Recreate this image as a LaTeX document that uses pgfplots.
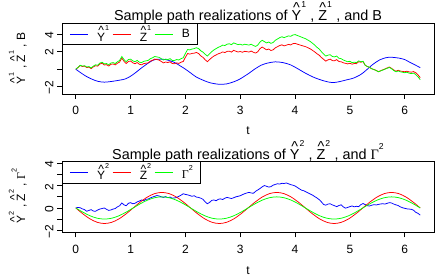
\documentclass[border=0pt]{standalone}
\usepackage{fontspec}
\setmainfont{Liberation Sans}
\newfontfamily\serifgr{Liberation Serif}
\usepackage{graphicx}
\usepackage{pgfplots}
\pgfplotsset{compat=1.18}

\newcommand{\rhat}[2]{\ooalign{#1\cr\hidewidth\raisebox{0.55em}{\textasciicircum}\hidewidth\cr}\raisebox{0.92em}{\scalebox{0.6}{#2}}}
\newcommand{\gsup}[1]{{\serifgr Γ}\raisebox{0.7em}{\scalebox{0.6}{#1}}}

\pgfplotsset{
  rstyle/.style={
    scale only axis, width=372pt, height=71pt,
    xmin=-0.2513, xmax=6.5345,
    axis line style={line width=0.75pt},
    tick align=outside, tick pos=left,
    every tick/.style={black, line width=0.75pt},
    major tick length=5pt,
    xtick={0,1,2,3,4,5,6},
    xticklabels={0,1,2,3,4,5,6},
    ticklabel style={font=\fontsize{12}{14}\selectfont},
    yticklabel style={rotate=90, anchor=south, xshift=-1pt},
    xticklabel style={anchor=north, yshift=-4pt},
    every axis plot/.append style={line width=0.75pt},
    legend style={at={(rel axis cs:0,1)}, anchor=north west, draw=black, line width=0.75pt,
      fill=white, font=\fontsize{12}{14}\selectfont, inner xsep=7pt, inner ysep=2pt,
      nodes={inner sep=0pt},
      /tikz/every odd column/.append style={column sep=9pt},
      /tikz/every even column/.append style={column sep=3pt}},
    legend columns=3,
    legend cell align=left,
    legend image code/.code={\draw[##1] (0pt,0pt) -- (18pt,0pt);},
  }
}

\begin{document}
\begin{tikzpicture}
\useasboundingbox (0,0) rectangle (446pt,278pt);

% ---------------- top panel ----------------
\begin{axis}[rstyle, at={(62pt,184pt)}, anchor=south west,
  ymin=-2.83, ymax=5.27, ytick={-2,0,2,4}, yticklabels={−2,,2,4}]
\addplot[blue, smooth] coordinates {
(0,0) (0.1,-0.45) (0.2,-0.85) (0.3,-1.15) (0.4,-1.38) (0.52,-1.48) (0.65,-1.4) (0.8,-1.25)
(0.9,-1.12) (1.0,-0.8) (1.1,-0.35) (1.2,0.15) (1.3,0.6) (1.4,1.0) (1.46,1.12) (1.55,1.15)
(1.65,1.08) (1.79,0.8) (1.9,0.4) (2.0,0.0) (2.1,-0.45) (2.2,-0.9) (2.34,-1.3) (2.45,-1.55)
(2.61,-1.72) (2.75,-1.68) (2.89,-1.42) (3.0,-1.1) (3.16,-0.46) (3.25,-0.05) (3.38,0.45)
(3.5,0.7) (3.64,0.84) (3.78,0.75) (3.92,0.49) (4.05,0.05) (4.19,-0.46) (4.35,-0.95)
(4.53,-1.34) (4.68,-1.53) (4.81,-1.42) (4.95,-1.2) (5.06,-1.03) (5.2,-0.6) (5.3,-0.1)
(5.42,0.55) (5.54,1.05) (5.65,1.3) (5.72,1.37) (5.82,1.33) (5.9,1.26) (6.0,1.1)
(6.09,0.8) (6.2,0.45) (6.283,0.18)};
\addlegendentry{\rhat{Y}{1}}
\addplot[red] coordinates {
(0,0) (0.04,0.18) (0.08,0.42) (0.12,0.31) (0.16,0.35) (0.2,0.19) (0.24,0.23) (0.28,0.07)
(0.32,0.26) (0.36,0.4) (0.4,0.35) (0.44,0.59) (0.48,0.68) (0.52,0.48) (0.56,0.52) (0.6,0.36)
(0.64,0.55) (0.68,0.6) (0.72,0.49) (0.76,0.68) (0.8,0.82) (0.84,1.26) (0.88,0.9) (0.92,0.65)
(0.96,0.89) (1.0,0.93) (1.04,0.73) (1.08,0.62) (1.12,0.76) (1.16,0.56) (1.2,0.5) (1.24,0.64)
(1.28,0.68) (1.32,0.72) (1.36,0.92) (1.4,1.01) (1.44,1.15) (1.48,1.1) (1.52,1.04) (1.56,0.88)
(1.6,0.72) (1.64,0.82) (1.68,0.76) (1.72,0.85) (1.76,0.64) (1.8,0.63) (1.84,0.72) (1.88,0.66)
(1.92,0.8) (1.96,0.88) (2.0,1.36) (2.04,1.79) (2.08,1.72) (2.12,1.8) (2.16,1.83) (2.2,1.91)
(2.24,1.79) (2.28,1.52) (2.32,1.35) (2.36,1.08) (2.4,0.86) (2.44,1.09) (2.48,1.32) (2.52,1.5)
(2.56,1.63) (2.6,1.76) (2.64,1.84) (2.68,1.97) (2.72,1.9) (2.76,2.03) (2.8,2.06) (2.84,1.95)
(2.88,2.15) (2.92,2.05) (2.96,1.96) (3.0,2.02) (3.04,1.93) (3.08,2.04) (3.12,2.0) (3.16,1.96)
(3.2,2.07) (3.24,1.93) (3.28,1.84) (3.32,1.99) (3.36,2.34) (3.4,2.53) (3.44,2.37) (3.48,2.21)
(3.52,2.3) (3.56,2.13) (3.6,2.21) (3.64,2.44) (3.68,2.57) (3.72,2.7) (3.76,2.78) (3.8,2.66)
(3.84,2.74) (3.88,2.83) (3.92,2.77) (3.96,2.91) (4.0,2.95) (4.04,2.86) (4.08,2.78) (4.12,2.7)
(4.16,2.63) (4.2,2.55) (4.24,2.43) (4.28,2.31) (4.32,2.14) (4.36,1.97) (4.4,1.76) (4.44,1.6)
(4.48,1.34) (4.52,1.13) (4.56,0.92) (4.6,1.06) (4.64,1.15) (4.68,0.98) (4.72,0.96) (4.76,1.09)
(4.8,0.87) (4.84,0.85) (4.88,0.73) (4.92,0.67) (4.96,0.6) (5.0,0.68) (5.04,0.57) (5.08,0.65)
(5.12,0.63) (5.16,0.86) (5.2,0.79) (5.24,0.87) (5.28,0.44) (5.32,0.3) (5.36,0.2) (5.4,0.05)
(5.44,-0.04) (5.48,-0.14) (5.52,-0.28) (5.56,-0.18) (5.6,-0.07) (5.64,0.03) (5.68,0.14)
(5.72,0.25) (5.76,0.1) (5.8,-0.09) (5.84,-0.23) (5.88,-0.12) (5.92,-0.21) (5.96,-0.25)
(6.0,-0.29) (6.04,-0.23) (6.08,-0.31) (6.12,-0.34) (6.16,-0.27) (6.2,-0.4) (6.24,-0.63)
(6.283,-0.96)};
\addlegendentry{\rhat{Z}{1}}
\addplot[green] coordinates {
(0,0) (0.04,0.2) (0.08,0.45) (0.12,0.35) (0.16,0.4) (0.2,0.25) (0.24,0.3) (0.28,0.15)
(0.32,0.35) (0.36,0.5) (0.4,0.45) (0.44,0.7) (0.48,0.8) (0.52,0.6) (0.56,0.65) (0.6,0.5)
(0.64,0.7) (0.68,0.75) (0.72,0.65) (0.76,0.85) (0.8,1.0) (0.84,1.45) (0.88,1.1) (0.92,0.85)
(0.96,1.1) (1.0,1.15) (1.04,0.95) (1.08,0.85) (1.12,1.0) (1.16,0.8) (1.2,0.75) (1.24,0.9)
(1.28,0.95) (1.32,1.0) (1.36,1.2) (1.4,1.3) (1.44,1.45) (1.48,1.4) (1.52,1.35) (1.56,1.2)
(1.6,1.05) (1.64,1.15) (1.68,1.1) (1.72,1.2) (1.76,1.0) (1.8,1.0) (1.84,1.1) (1.88,1.05)
(1.92,1.2) (1.96,1.3) (2.0,1.8) (2.04,2.25) (2.08,2.2) (2.12,2.3) (2.16,2.35) (2.2,2.45)
(2.24,2.35) (2.28,2.1) (2.32,1.95) (2.36,1.7) (2.4,1.5) (2.44,1.75) (2.48,2.0) (2.52,2.2)
(2.56,2.35) (2.6,2.5) (2.64,2.6) (2.68,2.75) (2.72,2.7) (2.76,2.85) (2.8,2.9) (2.84,2.8)
(2.88,3.0) (2.92,2.9) (2.96,2.8) (3.0,2.85) (3.04,2.75) (3.08,2.85) (3.12,2.8) (3.16,2.75)
(3.2,2.85) (3.24,2.7) (3.28,2.6) (3.32,2.75) (3.36,3.1) (3.4,3.3) (3.44,3.15) (3.48,3.0)
(3.52,3.1) (3.56,2.95) (3.6,3.05) (3.64,3.3) (3.68,3.45) (3.72,3.6) (3.76,3.7) (3.8,3.6)
(3.84,3.7) (3.88,3.8) (3.92,3.75) (3.96,3.9) (4.0,3.95) (4.04,3.85) (4.08,3.75) (4.12,3.65)
(4.16,3.55) (4.2,3.45) (4.24,3.3) (4.28,3.15) (4.32,2.95) (4.36,2.75) (4.4,2.5) (4.44,2.3)
(4.48,2.0) (4.52,1.75) (4.56,1.5) (4.6,1.6) (4.64,1.65) (4.68,1.45) (4.72,1.4) (4.76,1.5)
(4.8,1.25) (4.84,1.2) (4.88,1.05) (4.92,0.95) (4.96,0.85) (5.0,0.9) (5.04,0.75) (5.08,0.8)
(5.12,0.75) (5.16,0.95) (5.2,0.85) (5.24,0.9) (5.28,0.45) (5.32,0.3) (5.36,0.2) (5.4,0.05)
(5.44,-0.05) (5.48,-0.15) (5.52,-0.3) (5.56,-0.2) (5.6,-0.1) (5.64,0.0) (5.68,0.1) (5.72,0.2)
(5.76,0.05) (5.8,-0.15) (5.84,-0.3) (5.88,-0.2) (5.92,-0.3) (5.96,-0.35) (6.0,-0.4)
(6.04,-0.35) (6.08,-0.45) (6.12,-0.5) (6.16,-0.45) (6.2,-0.6) (6.24,-0.85) (6.283,-1.2)};
\addlegendentry{B}
\end{axis}

% ---------------- bottom panel ----------------
\begin{axis}[rstyle, at={(62pt,45.7pt)}, anchor=south west,
  ymin=-2.19, ymax=4.2, ytick={-2,-1,0,1,2,3,4}, yticklabels={−2,,0,,2,,4}]
\addplot[blue] coordinates {
(0,0) (0.04,0.05) (0.08,0.02) (0.12,-0.08) (0.16,-0.15) (0.2,-0.3) (0.24,-0.22) (0.28,-0.15)
(0.32,-0.28) (0.36,-0.3) (0.4,-0.18) (0.44,-0.1) (0.48,-0.05) (0.52,0.0) (0.56,-0.12)
(0.6,-0.22) (0.64,-0.18) (0.68,-0.1) (0.72,-0.05) (0.76,0.1) (0.8,0.2) (0.84,0.45) (0.88,0.28)
(0.92,0.2) (0.96,0.42) (1.0,0.48) (1.04,0.38) (1.08,0.42) (1.12,0.55) (1.16,0.62) (1.2,0.72)
(1.24,0.65) (1.28,0.78) (1.32,0.8) (1.36,0.9) (1.4,0.98) (1.44,1.05) (1.48,1.12) (1.52,1.08)
(1.56,1.0) (1.6,0.95) (1.64,1.02) (1.68,0.92) (1.72,0.98) (1.76,0.88) (1.8,0.9) (1.84,0.95)
(1.88,1.05) (1.92,1.15) (1.96,1.28) (2.0,1.22) (2.04,1.18) (2.08,1.12) (2.12,1.05) (2.16,1.1)
(2.2,0.98) (2.24,0.95) (2.28,0.88) (2.32,0.78) (2.36,0.55) (2.4,0.38) (2.44,0.5) (2.48,0.68)
(2.52,0.72) (2.56,0.65) (2.6,0.78) (2.64,0.82) (2.68,0.76) (2.72,0.88) (2.76,0.95) (2.8,0.9)
(2.84,0.85) (2.88,0.92) (2.92,1.0) (2.96,1.05) (3.0,1.1) (3.04,1.2) (3.08,1.28) (3.12,1.35)
(3.16,1.4) (3.2,1.35) (3.24,1.32) (3.28,1.5) (3.32,1.62) (3.36,1.75) (3.4,1.9) (3.44,2.02)
(3.48,1.95) (3.52,1.88) (3.56,1.92) (3.6,2.05) (3.64,2.12) (3.68,2.18) (3.72,2.15) (3.76,2.22)
(3.8,2.2) (3.84,2.25) (3.88,2.18) (3.92,2.1) (3.96,2.05) (4.0,1.98) (4.04,1.85) (4.08,1.72)
(4.12,1.6) (4.16,1.55) (4.2,1.45) (4.24,1.35) (4.28,1.25) (4.32,1.15) (4.36,1.02) (4.4,0.9)
(4.44,0.75) (4.48,0.55) (4.52,0.32) (4.56,0.25) (4.6,0.35) (4.64,0.38) (4.68,0.28) (4.72,0.2)
(4.76,0.12) (4.8,0.22) (4.84,0.28) (4.88,0.1) (4.92,-0.02) (4.96,0.05) (5.0,0.12) (5.04,0.18)
(5.08,0.1) (5.12,0.15) (5.16,0.12) (5.2,0.3) (5.24,0.4) (5.28,0.3) (5.32,0.2) (5.36,0.18)
(5.4,0.25) (5.44,0.3) (5.48,0.27) (5.52,0.32) (5.56,0.36) (5.6,0.38) (5.64,0.35) (5.68,0.42)
(5.72,0.48) (5.76,0.45) (5.8,0.35) (5.84,0.28) (5.88,0.22) (5.92,0.1) (5.96,0.02) (6.0,-0.03)
(6.04,-0.08) (6.08,-0.1) (6.12,-0.12) (6.16,-0.2) (6.2,-0.38) (6.24,-0.48) (6.283,-0.64)};
\addlegendentry{\rhat{Y}{2}}
\addplot[red, smooth] coordinates {
(0,0) (0.1309,-0.536) (0.2618,-0.990) (0.3927,-1.293) (0.5236,-1.4) (0.6545,-1.293)
(0.7854,-0.990) (0.9163,-0.536) (1.0472,0) (1.1781,0.536) (1.3090,0.990) (1.4399,1.293)
(1.5708,1.4) (1.7017,1.293) (1.8326,0.990) (1.9635,0.536) (2.0944,0) (2.2253,-0.536)
(2.3562,-0.990) (2.4871,-1.293) (2.6180,-1.4) (2.7489,-1.293) (2.8798,-0.990) (3.0107,-0.536)
(3.1416,0) (3.2725,0.536) (3.4034,0.990) (3.5343,1.293) (3.6652,1.4) (3.7961,1.293)
(3.9270,0.990) (4.0579,0.536) (4.1888,0) (4.3197,-0.536) (4.4506,-0.990) (4.5815,-1.293)
(4.7124,-1.4) (4.8433,-1.293) (4.9742,-0.990) (5.1051,-0.536) (5.2360,0) (5.3669,0.536)
(5.4978,0.990) (5.6287,1.293) (5.7596,1.4) (5.8905,1.293) (6.0214,0.990) (6.1523,0.536)
(6.2832,0)};
\addlegendentry{\rhat{Z}{2}}
\addplot[green, smooth] coordinates {
(0,0) (0.1309,-0.383) (0.2618,-0.707) (0.3927,-0.924) (0.5236,-1) (0.6545,-0.924)
(0.7854,-0.707) (0.9163,-0.383) (1.0472,0) (1.1781,0.383) (1.3090,0.707) (1.4399,0.924)
(1.5708,1) (1.7017,0.924) (1.8326,0.707) (1.9635,0.383) (2.0944,0) (2.2253,-0.383)
(2.3562,-0.707) (2.4871,-0.924) (2.6180,-1) (2.7489,-0.924) (2.8798,-0.707) (3.0107,-0.383)
(3.1416,0) (3.2725,0.383) (3.4034,0.707) (3.5343,0.924) (3.6652,1) (3.7961,0.924)
(3.9270,0.707) (4.0579,0.383) (4.1888,0) (4.3197,-0.383) (4.4506,-0.707) (4.5815,-0.924)
(4.7124,-1) (4.8433,-0.924) (4.9742,-0.707) (5.1051,-0.383) (5.2360,0) (5.3669,0.383)
(5.4978,0.707) (5.6287,0.924) (5.7596,1) (5.8905,0.924) (6.0214,0.707) (6.1523,0.383)
(6.2832,0)};
\addlegendentry{\gsup{2}}
\end{axis}

% titles and labels
\node[anchor=base, font=\fontsize{14.4}{17}\selectfont] at (248pt,257.5pt)
  {Sample path realizations of \rhat{Y}{1}\hspace{0.3em}, \rhat{Z}{1}\hspace{0.3em}, and B};
\node[anchor=base, font=\fontsize{14.4}{17}\selectfont] at (248pt,118.3pt)
  {Sample path realizations of \rhat{Y}{2}\hspace{0.3em}, \rhat{Z}{2}\hspace{0.3em}, and \gsup{2}};
\node[anchor=base, font=\fontsize{12}{14}\selectfont] at (248pt,143pt) {t};
\node[anchor=base, font=\fontsize{12}{14}\selectfont] at (248pt,4pt) {t};
\node[anchor=base, rotate=90, font=\fontsize{12}{14}\selectfont] at (25pt,219.5pt)
  {\rhat{Y}{1}\hspace{0.3em}, \rhat{Z}{1}\hspace{0.3em}, B};
\node[anchor=base, rotate=90, font=\fontsize{12}{14}\selectfont] at (25pt,82pt)
  {\rhat{Y}{2}\hspace{0.3em}, \rhat{Z}{2}\hspace{0.3em}, \gsup{2}};
\end{tikzpicture}
\end{document}
